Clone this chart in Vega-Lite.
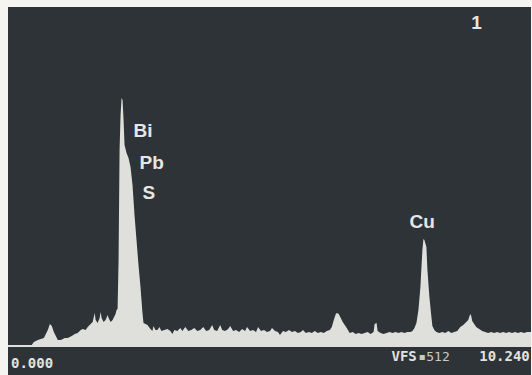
{
  "$schema": "https://vega.github.io/schema/vega-lite/v6.json",
  "autosize": {"type": "fit", "contains": "padding"},
  "width": 532,
  "height": 375,
  "padding": {"left": 7, "top": 7, "right": 0, "bottom": 0},
  "background": "#f6f4f1",
  "config": {"view": {"stroke": null, "fill": "#2e3337"}},
  "datasets": {
    "spectrum": [
      {"keV": 0.0, "counts": 0}, {"keV": 0.254, "counts": 0}, {"keV": 0.449, "counts": 0},
      {"keV": 0.507, "counts": 6.1}, {"keV": 0.585, "counts": 9.1}, {"keV": 0.702, "counts": 12.1},
      {"keV": 0.78, "counts": 24.2}, {"keV": 0.819, "counts": 33.3}, {"keV": 0.858, "counts": 30.3},
      {"keV": 0.897, "counts": 21.2}, {"keV": 0.975, "counts": 9.1}, {"keV": 1.034, "counts": 9.1},
      {"keV": 1.112, "counts": 12.1}, {"keV": 1.17, "counts": 12.1}, {"keV": 1.248, "counts": 15.1},
      {"keV": 1.307, "counts": 18.2}, {"keV": 1.365, "counts": 19.7}, {"keV": 1.424, "counts": 24.2},
      {"keV": 1.463, "counts": 25.8}, {"keV": 1.521, "counts": 24.2}, {"keV": 1.56, "counts": 28.8},
      {"keV": 1.619, "counts": 33.3}, {"keV": 1.658, "counts": 36.4}, {"keV": 1.697, "counts": 50.0},
      {"keV": 1.716, "counts": 39.4}, {"keV": 1.755, "counts": 34.8}, {"keV": 1.794, "counts": 42.4},
      {"keV": 1.814, "counts": 51.5}, {"keV": 1.833, "counts": 42.4}, {"keV": 1.872, "counts": 36.4},
      {"keV": 1.911, "counts": 39.4}, {"keV": 1.95, "counts": 47.0}, {"keV": 1.97, "counts": 42.4},
      {"keV": 2.009, "counts": 36.4}, {"keV": 2.048, "counts": 39.4}, {"keV": 2.067, "counts": 42.4},
      {"keV": 2.106, "counts": 48.5}, {"keV": 2.126, "counts": 54.5}, {"keV": 2.1455, "counts": 56.0},
      {"keV": 2.165, "counts": 130.3}, {"keV": 2.1845, "counts": 296.9}, {"keV": 2.204, "counts": 349.9},
      {"keV": 2.2235, "counts": 375.7}, {"keV": 2.243, "counts": 372.6}, {"keV": 2.2626, "counts": 342.3},
      {"keV": 2.282, "counts": 304.5}, {"keV": 2.321, "counts": 292.4}, {"keV": 2.36, "counts": 284.8},
      {"keV": 2.399, "counts": 271.1}, {"keV": 2.438, "counts": 243.9}, {"keV": 2.477, "counts": 198.4},
      {"keV": 2.516, "counts": 160.6}, {"keV": 2.555, "counts": 122.7}, {"keV": 2.594, "counts": 89.4},
      {"keV": 2.633, "counts": 50.0}, {"keV": 2.653, "counts": 34.8}, {"keV": 2.692, "counts": 33.3},
      {"keV": 2.731, "counts": 31.8}, {"keV": 2.789, "counts": 25.8}, {"keV": 2.828, "counts": 22.7},
      {"keV": 2.848, "counts": 30.3}, {"keV": 2.887, "counts": 24.2}, {"keV": 2.926, "counts": 24.2},
      {"keV": 2.965, "counts": 28.8}, {"keV": 3.004, "counts": 22.7}, {"keV": 3.062, "counts": 24.2},
      {"keV": 3.121, "counts": 25.8}, {"keV": 3.179, "counts": 22.7}, {"keV": 3.218, "counts": 18.2},
      {"keV": 3.257, "counts": 24.2}, {"keV": 3.316, "counts": 22.7}, {"keV": 3.374, "counts": 27.3},
      {"keV": 3.413, "counts": 22.7}, {"keV": 3.472, "counts": 28.8}, {"keV": 3.53, "counts": 22.7},
      {"keV": 3.589, "counts": 24.2}, {"keV": 3.647, "counts": 27.3}, {"keV": 3.706, "counts": 22.7},
      {"keV": 3.764, "counts": 24.2}, {"keV": 3.823, "counts": 28.8}, {"keV": 3.881, "counts": 22.7},
      {"keV": 3.94, "counts": 24.2}, {"keV": 3.998, "counts": 31.8}, {"keV": 4.037, "counts": 24.2},
      {"keV": 4.096, "counts": 22.7}, {"keV": 4.155, "counts": 31.8}, {"keV": 4.194, "counts": 24.2},
      {"keV": 4.252, "counts": 22.7}, {"keV": 4.311, "counts": 25.8}, {"keV": 4.35, "counts": 30.3},
      {"keV": 4.408, "counts": 22.7}, {"keV": 4.467, "counts": 24.2}, {"keV": 4.525, "counts": 21.2},
      {"keV": 4.584, "counts": 25.8}, {"keV": 4.642, "counts": 22.7}, {"keV": 4.681, "counts": 28.8},
      {"keV": 4.74, "counts": 22.7}, {"keV": 4.798, "counts": 24.2}, {"keV": 4.857, "counts": 21.2},
      {"keV": 4.896, "counts": 28.8}, {"keV": 4.954, "counts": 22.7}, {"keV": 5.013, "counts": 24.2},
      {"keV": 5.071, "counts": 21.2}, {"keV": 5.13, "counts": 22.7}, {"keV": 5.169, "counts": 27.3},
      {"keV": 5.228, "counts": 22.7}, {"keV": 5.286, "counts": 21.2}, {"keV": 5.325, "counts": 16.7},
      {"keV": 5.384, "counts": 22.7}, {"keV": 5.442, "counts": 21.2}, {"keV": 5.501, "counts": 24.2},
      {"keV": 5.559, "counts": 21.2}, {"keV": 5.618, "counts": 22.7}, {"keV": 5.676, "counts": 19.7},
      {"keV": 5.735, "counts": 21.2}, {"keV": 5.774, "counts": 24.2}, {"keV": 5.832, "counts": 19.7},
      {"keV": 5.891, "counts": 21.2}, {"keV": 5.949, "counts": 19.7}, {"keV": 6.008, "counts": 22.7},
      {"keV": 6.066, "counts": 19.7}, {"keV": 6.125, "counts": 21.2}, {"keV": 6.184, "counts": 19.7},
      {"keV": 6.242, "counts": 22.7}, {"keV": 6.301, "counts": 24.2}, {"keV": 6.34, "counts": 28.8},
      {"keV": 6.379, "counts": 39.4}, {"keV": 6.418, "counts": 48.5}, {"keV": 6.437, "counts": 50.0},
      {"keV": 6.476, "counts": 48.5}, {"keV": 6.515, "counts": 42.4}, {"keV": 6.554, "counts": 36.4},
      {"keV": 6.593, "counts": 31.8}, {"keV": 6.632, "counts": 27.3}, {"keV": 6.69, "counts": 19.7},
      {"keV": 6.749, "counts": 21.2}, {"keV": 6.807, "counts": 18.2}, {"keV": 6.866, "counts": 19.7},
      {"keV": 6.924, "counts": 18.2}, {"keV": 6.983, "counts": 19.7}, {"keV": 7.041, "counts": 21.2},
      {"keV": 7.1, "counts": 18.2}, {"keV": 7.158, "counts": 21.2}, {"keV": 7.178, "counts": 33.3},
      {"keV": 7.217, "counts": 34.8}, {"keV": 7.236, "counts": 22.7}, {"keV": 7.295, "counts": 19.7},
      {"keV": 7.353, "counts": 18.2}, {"keV": 7.412, "counts": 19.7}, {"keV": 7.47, "counts": 21.2},
      {"keV": 7.529, "counts": 19.7}, {"keV": 7.587, "counts": 21.2}, {"keV": 7.646, "counts": 19.7},
      {"keV": 7.704, "counts": 21.2}, {"keV": 7.763, "counts": 19.7}, {"keV": 7.821, "counts": 21.2},
      {"keV": 7.88, "counts": 21.2}, {"keV": 7.919, "counts": 22.7}, {"keV": 7.958, "counts": 27.3},
      {"keV": 7.997, "counts": 34.8}, {"keV": 8.036, "counts": 54.5}, {"keV": 8.075, "counts": 89.4},
      {"keV": 8.095, "counts": 119.7}, {"keV": 8.114, "counts": 145.4}, {"keV": 8.134, "counts": 162.1},
      {"keV": 8.153, "counts": 160.6}, {"keV": 8.192, "counts": 150.0}, {"keV": 8.212, "counts": 115.1},
      {"keV": 8.251, "counts": 74.2}, {"keV": 8.29, "counts": 43.9}, {"keV": 8.309, "counts": 30.3},
      {"keV": 8.348, "counts": 24.2}, {"keV": 8.387, "counts": 21.2}, {"keV": 8.446, "counts": 19.7},
      {"keV": 8.504, "counts": 21.2}, {"keV": 8.563, "counts": 19.7}, {"keV": 8.621, "counts": 22.7},
      {"keV": 8.68, "counts": 19.7}, {"keV": 8.738, "counts": 21.2}, {"keV": 8.797, "counts": 22.7},
      {"keV": 8.855, "counts": 28.8}, {"keV": 8.914, "counts": 31.8}, {"keV": 8.972, "counts": 36.4},
      {"keV": 9.011, "counts": 39.4}, {"keV": 9.05, "counts": 48.5}, {"keV": 9.07, "counts": 45.4},
      {"keV": 9.089, "counts": 37.9}, {"keV": 9.128, "counts": 33.3}, {"keV": 9.167, "counts": 28.8},
      {"keV": 9.226, "counts": 25.8}, {"keV": 9.284, "counts": 22.7}, {"keV": 9.343, "counts": 21.2},
      {"keV": 9.401, "counts": 19.7}, {"keV": 9.46, "counts": 21.2}, {"keV": 9.518, "counts": 19.7},
      {"keV": 9.577, "counts": 21.2}, {"keV": 9.635, "counts": 19.7}, {"keV": 9.694, "counts": 21.2},
      {"keV": 9.752, "counts": 19.7}, {"keV": 9.811, "counts": 21.2}, {"keV": 9.869, "counts": 19.7},
      {"keV": 9.928, "counts": 21.2}, {"keV": 9.986, "counts": 19.7}, {"keV": 10.045, "counts": 21.2},
      {"keV": 10.104, "counts": 19.7}, {"keV": 10.162, "counts": 21.2}, {"keV": 10.24, "counts": 21.2}
    ],
    "labels": [
      {"text": "Bi", "keV": 2.458, "counts": 325.7, "kind": "element"},
      {"text": "Pb", "keV": 2.575, "counts": 277.2, "kind": "element"},
      {"text": "S", "keV": 2.633, "counts": 232.5, "kind": "element"},
      {"text": "Cu", "keV": 7.861, "counts": 188.6, "kind": "element"},
      {"text": "1", "keV": 9.07, "counts": 489.3, "kind": "element"},
      {"text": "0.000", "keV": 0.059, "counts": -27.3, "kind": "readout"},
      {"text": "VFS", "keV": 7.509, "counts": -16.7, "kind": "readout"},
      {"text": "10.240", "keV": 9.226, "counts": -16.7, "kind": "readout"},
      {"text": "▪512", "keV": 8.036, "counts": -16.7, "kind": "scale"}
    ]
  },
  "encoding": {
    "x": {"field": "keV", "type": "quantitative", "axis": null,
          "scale": {"domain": [0, 10.24], "nice": false, "zero": false}},
    "y": {"field": "counts", "type": "quantitative", "axis": null,
          "scale": {"domain": [-43.9, 513.5], "nice": false, "zero": false}}
  },
  "layer": [
    {
      "data": {"name": "spectrum"},
      "mark": {"type": "area", "color": "#dfe0db", "interpolate": "linear", "clip": true},
      "encoding": {"y2": {"datum": 0}}
    },
    {
      "data": {"name": "spectrum"},
      "mark": {"type": "rule", "color": "#dfe0db", "strokeWidth": 2},
      "encoding": {"x": null, "y": {"datum": 0}}
    },
    {
      "data": {"name": "labels"},
      "transform": [{"filter": "datum.kind === 'element'"}],
      "mark": {"type": "text", "align": "left", "baseline": "middle", "font": "Liberation Sans",
               "fontWeight": "bold", "fontSize": 19, "color": "#e6e6e3", "clip": true},
      "encoding": {"text": {"field": "text"}}
    },
    {
      "data": {"name": "labels"},
      "transform": [{"filter": "datum.kind === 'readout'"}],
      "mark": {"type": "text", "align": "left", "baseline": "middle", "font": "DejaVu Sans Mono",
               "fontWeight": "bold", "fontSize": 14, "color": "#e2e2df", "clip": true},
      "encoding": {"text": {"field": "text"}}
    },
    {
      "data": {"name": "labels"},
      "transform": [{"filter": "datum.kind === 'scale'"}],
      "mark": {"type": "text", "align": "left", "baseline": "middle", "font": "DejaVu Sans Mono",
               "fontWeight": "normal", "fontSize": 13, "color": "#c9cac7", "clip": true},
      "encoding": {"text": {"field": "text"}}
    }
  ]
}
